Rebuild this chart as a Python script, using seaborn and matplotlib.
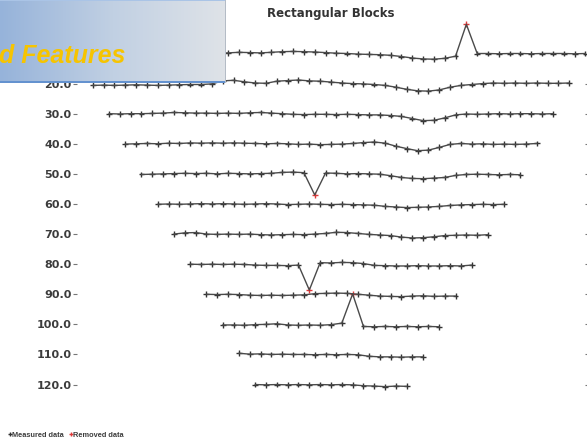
import numpy as np
import pandas as pd
import matplotlib
matplotlib.use("Agg")
import matplotlib.pyplot as plt
from matplotlib.colors import LinearSegmentedColormap
from matplotlib.patches import Rectangle
import seaborn as sns

# Pseudo-depth levels of the Wenner profile (one trace per level)
depths = [10, 20, 30, 40, 50, 60, 70, 80, 90, 100, 110, 120]
n_electrodes = 51

# Trace deflection at each datum point, in depth units (positive = downward)
row_10 = [0.3, 0.2, 0.3, 0.2, 0.1, 0.2, 0.3, 0.2, 0.1, 0.0, 0.1, 0.2, 0.1, 0.0,
          -0.2, -0.4, -0.3, -0.2,
          -0.4, -0.6, -0.7, -0.6, -0.5, -0.3,
          -0.1, 0.0, 0.2, 0.3, 0.4, 0.6,
          1.0, 1.5, 1.8, 1.9, 1.6, 0.9,
          -9.7,
          0.0, 0.0, 0.1, 0.0, 0.0, 0.1, 0.0, 0.0, 0.0, 0.1, 0.0]
row_20 = [0.6, 0.5, 0.6, 0.5, 0.4, 0.5, 0.6, 0.5, 0.4, 0.3, 0.3, 0.1,
          -0.9, -1.1, -0.6, -0.2, -0.1,
          -0.8, -1.0, -1.2, -0.9, -0.8, -0.5,
          -0.2, 0.0, 0.1, 0.3, 0.6,
          1.2, 1.9, 2.4, 2.5, 2.1, 1.2, 0.6,
          0.3, 0.0, -0.2, -0.1, -0.2, -0.1, -0.2, -0.1, -0.1, -0.2]
row_30 = [0.0, 0.1, 0.0, 0.0, -0.1, -0.2,
          -0.4, -0.3, -0.2, -0.2, -0.1, -0.2, -0.1,
          -0.3, -0.4, -0.2, 0.0, 0.2, 0.3,
          0.2, 0.2, 0.3, 0.2, 0.3, 0.4, 0.4, 0.6, 0.9,
          1.6, 2.3, 2.2, 1.4,
          0.4, 0.1, 0.2, 0.1, 0.0, 0.1, 0.0, 0.0, 0.1, 0.0]
row_40 = [0.1, 0.0, -0.1, 0.0, -0.2, -0.1, -0.3, -0.2, -0.3, -0.2, -0.3, -0.2,
          -0.1, 0.0, -0.1, 0.0, 0.2, 0.1, 0.3, 0.2, 0.1, -0.1, -0.4, -0.6,
          -0.2, 0.8, 1.6, 2.3, 2.1, 1.2,
          0.2, -0.1, 0.1, 0.0, 0.2, 0.1, 0.2, 0.1, -0.1]
row_50 = [0.2, 0.1, 0.0, -0.1, -0.2, -0.1, -0.2, 0.0, -0.2, -0.1, 0.0, -0.1, -0.2,
          -0.5, -0.6, -0.4,
          7.0,
          -0.3, -0.2, 0.0, -0.1, 0.0, 0.1,
          0.6, 1.2, 1.5, 1.6, 1.4, 1.2,
          0.5, 0.2, 0.1, 0.2, 0.3, 0.2, 0.3]
row_60 = [0.1, 0.0, 0.1, 0.0, -0.1, 0.0, -0.1, 0.0, 0.1, 0.0, -0.1, 0.0,
          0.2, 0.1, 0.0, 0.1, 0.2, 0.1, 0.2, 0.3, 0.4,
          0.8, 1.0, 1.2, 1.1, 1.0, 0.8, 0.5,
          0.3, 0.2, 0.1, 0.2, 0.1]
row_70 = [0.0, -0.4, -0.5, 0.0, 0.1, 0.0, 0.1, 0.0, 0.2, 0.3, 0.2, 0.1, 0.2, 0.0, -0.2,
          -0.6, -0.5, -0.2,
          0.1, 0.3, 0.5,
          1.0, 1.3, 1.2, 0.9,
          0.5, 0.4, 0.3, 0.4, 0.2]
row_80 = [0.0, 0.1, 0.0, 0.1, 0.0, 0.1, 0.3, 0.4, 0.4, 0.5, 0.3,
          8.6,
          -0.5, -0.4, -0.6, -0.5, -0.2,
          0.4, 0.5, 0.6, 0.6, 0.5, 0.6, 0.6, 0.5, 0.6, 0.3]
row_90 = [0.0, 0.1, 0.0, 0.1, 0.3, 0.4, 0.3, 0.4, 0.3, 0.2,
          -0.2, -0.3, -0.4, -0.3,
          0.0, 0.3, 0.6, 0.7,
          0.8, 0.6, 0.5, 0.7, 0.6, 0.6]
row_100 = [0.2, 0.2, 0.3, 0.1, 0.0, -0.2, 0.2, 0.3, 0.2, 0.3, 0.1, -0.4,
           -10.1,
           0.7, 0.8, 0.7, 0.8, 0.7, 0.8, 0.7, 0.8]
row_110 = [-0.4, -0.1, -0.2, 0.0, -0.1, 0.0, 0.0, 0.1, 0.0, 0.1, 0.0, 0.1,
           0.6, 0.8, 0.8, 0.9, 0.8, 0.8]
row_120 = [0.0, 0.1, 0.0, 0.1, 0.0, 0.1, 0.0, 0.1, 0.0, 0.1, 0.4, 0.5, 0.7, 0.5, 0.6]

traces = [row_10, row_20, row_30, row_40, row_50, row_60,
          row_70, row_80, row_90, row_100, row_110, row_120]

# Index of the rejected datum on each affected level
removed = {10: 36, 50: 16, 80: 11, 100: 12}

records = []
for level, (depth, vals) in enumerate(zip(depths, traces), start=1):
    x_first = 1.5 * level          # Wenner datum point of the first quadrupole
    for i, v in enumerate(vals):
        records.append({
            "level": depth,
            "x": x_first + i,
            "y": depth + v,
            "status": "Removed data" if removed.get(depth) == i else "Measured data",
        })
df = pd.DataFrame(records)

sns.set_theme(style="white")
plt.rcParams["font.family"] = ["DejaVu Sans"]

W, H = 587, 448
fig = plt.figure(figsize=(W / 100, H / 100), dpi=100, facecolor="white")
ax = fig.add_axes([77 / W, 1 - 399.6 / H, (584.5 - 77) / W, (399.6 - 20.4) / H])
ax.set_facecolor("none")

sns.lineplot(data=df, x="x", y="y", units="level", estimator=None, sort=False,
             color="#4a4a4a", linewidth=1.0, ax=ax, legend=False)
for line in ax.lines:
    line.set_clip_on(False)
sns.scatterplot(data=df, x="x", y="y", hue="status",
                palette={"Measured data": "#333333", "Removed data": "#e03a3a"},
                marker="+", s=18, linewidth=1.0, ax=ax)
for coll in ax.collections:
    coll.set_clip_on(False)

ax.set_xlim(1.547, 48.41)
ax.set_ylim(125, -1)
ax.set_xlabel("")
ax.set_ylabel("")
ax.set_xticks([])
ax.set_yticks(depths)
# the top level's label sits under the banner
ax.set_yticklabels(["" if d == 10 else f"{d:.1f}" for d in depths], fontsize=8,
                   fontweight="bold", color="#3c3c3c")
ax.tick_params(axis="y", left=True, right=True, length=3, width=0.8,
               color="#777777", pad=1, direction="out")
for sp in ax.spines.values():
    sp.set_visible(False)

sns.move_legend(ax, "lower left", bbox_to_anchor=(0 / W, 4 / H),
                bbox_transform=fig.transFigure, ncol=2, title=None,
                frameon=False, handletextpad=-0.3, handlelength=1.2,
                columnspacing=0.4, markerscale=0.8, borderpad=0.2,
                prop={"family": ["Liberation Sans", "DejaVu Sans"],
                      "weight": "bold", "size": 5.3})
for t in ax.get_legend().get_texts():
    t.set_color("#3c3c3c")

fig.text(331 / W, 1 - 14 / H, "Rectangular Blocks", ha="center", va="center",
         fontsize=8.5, fontweight="bold", color="#333333")

# Slide banner in the top-left corner
bax = fig.add_axes([0, 1 - 83 / H, 226 / W, 83 / H], zorder=5)
cmap = LinearSegmentedColormap.from_list("banner", ["#96b3da", "#c1d0e3", "#dfe3e8"])
bax.imshow(np.linspace(0, 1, 256)[None, :], aspect="auto", cmap=cmap,
           extent=[0, 1, 0, 1])
bax.set_axis_off()
fig.patches.append(Rectangle((0, 1 - 83 / H), 226 / W, 2 / H, transform=fig.transFigure,
                             facecolor="#6492cf", edgecolor="none", zorder=6))
fig.patches.append(Rectangle((0, 1 - 1.5 / H), 226 / W, 1.5 / H, transform=fig.transFigure,
                             facecolor="#aac4e6", edgecolor="none", zorder=6))
fig.patches.append(Rectangle((224.5 / W, 1 - 83 / H), 1.5 / W, 83 / H, transform=fig.transFigure,
                             facecolor="#b4bcc6", edgecolor="none", zorder=6))
fig.text(-1 / W, 1 - 63 / H, "d Features", ha="left", va="baseline",
         fontsize=18, fontweight="bold", fontstyle="italic", color="#f6c400",
         family=["Liberation Sans", "DejaVu Sans"], zorder=7)

fig.savefig("out.png", dpi=100, facecolor="white")
